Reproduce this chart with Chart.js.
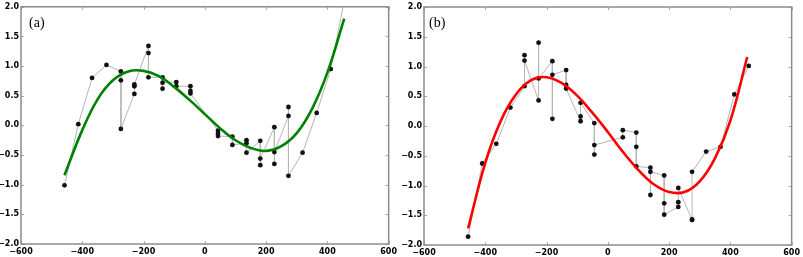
<!DOCTYPE html>
<html>
<head>
<meta charset="utf-8">
<script src="https://cdn.jsdelivr.net/npm/chart.js@4/dist/chart.umd.min.js"></script>
<style>
  body { margin: 0; background: #fff; }
  #wrap { position: relative; width: 803px; height: 257px; overflow: hidden; }
  canvas { position: absolute; top: 0; }
  .lab { position: absolute; font-family: 'Liberation Serif', serif; font-size: 14px; line-height: 14px; color: #000; }
</style>
</head>
<body>
<div id="wrap">
  <canvas id="chartA" width="400" height="257" style="left:0;width:400px;height:257px"></canvas>
  <canvas id="chartB" width="403" height="257" style="left:400px;width:403px;height:257px"></canvas>
  <div class="lab" style="left:29px;top:16px">(a)</div>
  <div class="lab" style="left:429px;top:16px">(b)</div>
</div>
<script>
// panel (a): measured points, in the order the grey line joins them
const leftX = [-458, -413, -368, -321, -274, -274, -274, -230, -230, -230, -184, -184, -184,
  -138, -138, -138, -93, -93, -47, -47, -47, 43, 43, 43, 90, 90, 136, 136, 136,
  181, 181, 181, 227, 227, 227, 273, 273, 273, 319, 365, 411, 458];
const leftY = [-1.01, 0.02, 0.80, 1.02, 0.91, 0.76, -0.06, 0.53, 0.66, 0.69, 1.34, 1.22, 0.81,
  0.81, 0.62, 0.72, 0.73, 0.66, 0.66, 0.58, 0.54, -0.09, -0.14, -0.18, -0.19, -0.33, -0.30, -0.25, -0.46,
  -0.26, -0.67, -0.56, -0.03, -0.65, -0.45, 0.16, 0.31, -0.85, -0.46, 0.21, 0.95, 2.18];

// panel (a): green fitted curve
const greenX = [-458, -400, -350, -300, -250, -200, -150, -100, -50, 0, 50, 100, 150, 200, 250, 300, 350, 400, 455];
const greenY = [-0.84, -0.08, 0.44, 0.76, 0.91, 0.92, 0.83, 0.65, 0.43, 0.19, -0.05, -0.25, -0.38, -0.43, -0.35, -0.13, 0.28, 0.89, 1.80];

// panel (b): measured points
const rightX = [-456, -410, -364, -318, -272, -272, -272, -226, -226, -226, -181, -181, -181,
  -136, -136, -136, -89, -89, -89, -44, -44, -44, 49, 49, 93, 93, 93, 139, 139, 139,
  184, 184, 184, 230, 230, 230, 275, 275, 275, 321, 368, 413, 460];
const rightY = [-1.86, -0.63, -0.30, 0.31, 0.67, 1.19, 1.10, 0.43, 1.40, 0.80, 1.09, 0.12, 0.86,
  0.94, 0.69, 0.63, 0.08, 0.16, 0.39, 0.05, -0.48, -0.32, -0.19, -0.07, -0.11, -0.35, -0.68, -0.70, -1.16, -0.77,
  -0.83, -1.30, -1.49, -1.36, -1.28, -1.04, -1.58, -1.57, -0.77, -0.43, -0.35, 0.53, 1.01];

// panel (b): red fitted curve
const redX = [-456, -400, -350, -300, -250, -200, -150, -100, -50, 0, 50, 100, 150, 200, 250, 300, 350, 400, 455];
const redY = [-1.72, -0.62, 0.08, 0.53, 0.77, 0.82, 0.72, 0.51, 0.22, -0.10, -0.44, -0.74, -0.98, -1.11, -1.11, -0.93, -0.54, 0.09, 1.16];

const xTicks = [-600, -400, -200, 0, 200, 400, 600];
const yTicks = [-2.0, -1.5, -1.0, -0.5, 0.0, 0.5, 1.0, 1.5, 2.0];

function toPoints(xs, ys) {
  const pts = [];
  for (let i = 0; i < xs.length; i++) {
    pts.push({ x: xs[i], y: ys[i] });
  }
  return pts;
}

function minus(str) {
  return String(str).replace('-', '\u2212');
}

// grey frame plus small inward ticks on all four sides
const frameTicks = {
  id: 'frameTicks',
  afterDatasetsDraw(chart) {
    const ctx = chart.ctx;
    const a = chart.chartArea;
    const xs = chart.scales.x;
    const ys = chart.scales.y;
    ctx.save();
    ctx.strokeStyle = '#a8a8a8';
    ctx.lineWidth = 1;
    ctx.beginPath();
    xTicks.forEach(function (v) {
      const px = Math.round(xs.getPixelForValue(v)) + 0.5;
      ctx.moveTo(px, a.bottom);
      ctx.lineTo(px, a.bottom - 3);
      ctx.moveTo(px, a.top);
      ctx.lineTo(px, a.top + 3);
    });
    yTicks.forEach(function (v) {
      const py = Math.round(ys.getPixelForValue(v)) + 0.5;
      ctx.moveTo(a.left, py);
      ctx.lineTo(a.left + 3, py);
      ctx.moveTo(a.right, py);
      ctx.lineTo(a.right - 3, py);
    });
    ctx.stroke();
    ctx.strokeStyle = '#8c8c8c';
    ctx.lineWidth = 1.5;
    ctx.strokeRect(a.left, a.top, a.right - a.left, a.bottom - a.top);
    ctx.restore();
  },
};

function makeChart(id, xs, ys, fx, fy, color, box) {
  const tickFont = { family: 'DejaVu Sans', size: 8, weight: 'bold' };
  return new Chart(document.getElementById(id), {
    type: 'line',
    data: {
      datasets: [
        {
          data: toPoints(fx, fy),
          borderColor: color,
          borderWidth: 2.6,
          tension: 0.4,
          pointRadius: 0,
          fill: false,
        },
        {
          data: toPoints(xs, ys),
          borderColor: '#b5b5b5',
          borderWidth: 1,
          tension: 0,
          pointRadius: 2.4,
          pointBorderWidth: 0,
          pointBackgroundColor: '#111',
          fill: false,
        },
      ],
    },
    options: {
      responsive: false,
      animation: false,
      devicePixelRatio: 1,
      layout: { padding: { left: 0, top: box.top, right: box.right, bottom: 0 } },
      plugins: { legend: { display: false }, tooltip: { enabled: false } },
      scales: {
        x: {
          type: 'linear',
          min: -600,
          max: 600,
          grid: { display: false, drawTicks: false },
          border: { display: false },
          afterBuildTicks: function (s) { s.ticks = xTicks.map(function (v) { return { value: v }; }); },
          afterFit: function (s) { s.height = box.xh; },
          ticks: {
            font: tickFont,
            color: '#000',
            padding: 3,
            maxRotation: 0,
            autoSkip: false,
            callback: function (v) { return minus(v); },
          },
        },
        y: {
          type: 'linear',
          min: -2,
          max: 2,
          grid: { display: false, drawTicks: false },
          border: { display: false },
          afterBuildTicks: function (s) { s.ticks = yTicks.map(function (v) { return { value: v }; }); },
          afterFit: function (s) { s.width = box.yw; },
          ticks: {
            font: tickFont,
            color: '#000',
            padding: 2,
            autoSkip: false,
            callback: function (v) { return minus(Number(v).toFixed(1)); },
          },
        },
      },
    },
    plugins: [frameTicks],
  });
}

makeChart('chartA', leftX, leftY, greenX, greenY, '#008000', { top: 6, right: 8, xh: 13, yw: 21 });
makeChart('chartB', rightX, rightY, redX, redY, '#ff0000', { top: 7, right: 8, xh: 12, yw: 24 });
</script>
</body>
</html>
